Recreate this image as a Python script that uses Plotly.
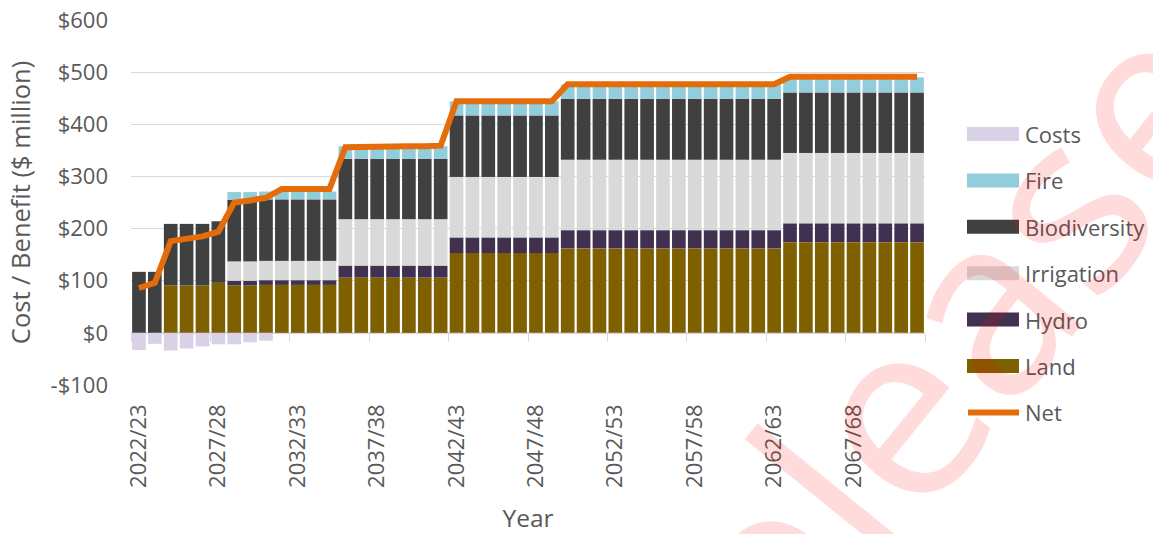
import plotly.graph_objects as go

# ---------------- data ----------------
years = ["2022/23", "2023/24", "2024/25", "2025/26", "2026/27", "2027/28", "2028/29", "2029/30",
         "2030/31", "2031/32", "2032/33", "2033/34", "2034/35", "2035/36", "2036/37", "2037/38",
         "2038/39", "2039/40", "2040/41", "2041/42", "2042/43", "2043/44", "2044/45", "2045/46",
         "2046/47", "2047/48", "2048/49", "2049/50", "2050/51", "2051/52", "2052/53", "2053/54",
         "2054/55", "2055/56", "2056/57", "2057/58", "2058/59", "2059/60", "2060/61", "2061/62",
         "2062/63", "2063/64", "2064/65", "2065/66", "2066/67", "2067/68", "2068/69", "2069/70",
         "2070/71", "2071/72"]

land = [0, 0, 91, 91, 91, 96, 91, 91, 92, 92, 92, 92, 92,
        106, 106, 106, 106, 106, 106, 106,
        153, 153, 153, 153, 153, 153, 153,
        162, 162, 162, 162, 162, 162, 162, 162, 162, 162, 162, 162, 162, 162,
        174, 174, 174, 174, 174, 174, 174, 174, 174]
hydro = [0, 0, 0, 0, 0, 0, 9, 9, 9, 9, 9, 9, 9,
         23, 23, 23, 23, 23, 23, 23,
         30, 30, 30, 30, 30, 30, 30,
         35, 35, 35, 35, 35, 35, 35, 35, 35, 35, 35, 35, 35, 35,
         36, 36, 36, 36, 36, 36, 36, 36, 36]
irrigation = [0, 0, 0, 0, 0, 0, 37, 37, 37, 37, 37, 37, 37,
              89, 89, 89, 89, 89, 89, 89,
              116, 116, 116, 116, 116, 116, 116,
              135, 135, 135, 135, 135, 135, 135, 135, 135, 135, 135, 135, 135, 135,
              135, 135, 135, 135, 135, 135, 135, 135, 135]
biodiversity = [117, 117, 118, 118, 118, 118, 118, 118, 118, 118, 118, 118, 118,
                116, 116, 116, 116, 116, 116, 116,
                118, 118, 118, 118, 118, 118, 118,
                117, 117, 117, 117, 117, 117, 117, 117, 117, 117, 117, 117, 117, 117,
                116, 116, 116, 116, 116, 116, 116, 116, 116]
fire = [0, 0, 0, 0, 0, 0, 15, 15, 15, 15, 15, 15, 15,
        24, 24, 24, 24, 24, 24, 24,
        27, 27, 27, 27, 27, 27, 27,
        27, 27, 27, 27, 27, 27, 27, 27, 27, 27, 27, 27, 27, 27,
        29, 29, 29, 29, 29, 29, 29, 29, 29]
costs = [-33, -21, -34, -30, -26, -22, -22, -18, -15, 0, 0, 0, 0,
         0, 0, 0, 0, 0, 0, 0,
         0, 0, 0, 0, 0, 0, 0,
         0, 0, 0, 0, 0, 0, 0, 0, 0, 0, 0, 0, 0, 0,
         0, 0, 0, 0, 0, 0, 0, 0, 0]
net = [86, 96, 176, 180, 185, 194, 250, 254, 259, 276, 276, 276, 276,
       356, 357, 357, 358, 358, 358, 359,
       444, 444, 444, 444, 444, 444, 444,
       477, 477, 477, 477, 477, 477, 477, 477, 477, 477, 477, 477, 477, 477,
       491, 491, 491, 491, 491, 491, 491, 491, 491]

y_ticks = [-100, 0, 100, 200, 300, 400, 500, 600]
y_ticktext = ["-$100", "$0", "$100", "$200", "$300", "$400", "$500", "$600"]
label_every = 5

# ---------------- style ----------------
C_LAND = "#7F6000"
C_HYDRO = "#403151"
C_IRR = "#D9D9D9"
C_BIO = "#404040"
C_FIRE = "#92CDDC"
C_COSTS = "#D9D1E5"
C_NET = "#E46C0A"
TXT = "#595959"
GRID = "#D9D9D9"
FONT = "Open Sans"

W, H = 1153, 534
ML, MR, MT, MB = 131, 228, 20, 149
PW, PH = W - ML - MR, H - MT - MB


def px(x):
    return (x - ML) / PW


def py(y):
    return (H - MB - y) / PH


xi = list(range(len(years)))

fig = go.Figure()
for name, vals, col in [("Land", land, C_LAND), ("Hydro", hydro, C_HYDRO),
                        ("Irrigation", irrigation, C_IRR), ("Biodiversity", biodiversity, C_BIO),
                        ("Fire", fire, C_FIRE), ("Costs", costs, C_COSTS)]:
    fig.add_trace(go.Bar(x=xi, y=vals, name=name, marker=dict(color=col, line=dict(width=0)),
                         showlegend=False))
fig.add_trace(go.Scatter(x=xi, y=net, name="Net", mode="lines",
                         line=dict(color=C_NET, width=6), showlegend=False))
# helper trace for the category axis line drawn at y = 0
fig.add_trace(go.Scatter(x=[], y=[], xaxis="x2", yaxis="y", showlegend=False, hoverinfo="skip"))

n = len(years)
fig.update_layout(
    width=W, height=H,
    margin=dict(l=ML, r=MR, t=MT, b=MB, autoexpand=False),
    paper_bgcolor="white", plot_bgcolor="white",
    barmode="relative", bargap=0.14,
    showlegend=False,
    font=dict(family=FONT, size=22, color=TXT),
    xaxis=dict(range=[-0.5, n - 0.5], tickmode="array",
               tickvals=xi[::label_every], ticktext=years[::label_every],
               tickangle=-90, showgrid=False, showline=False, zeroline=False, ticks="",
               ticklabelstandoff=14, automargin=False,
               title=dict(text="Year", font=dict(size=24.5, color=TXT), standoff=22)),
    xaxis2=dict(overlaying="x", anchor="free", position=100 / 700, range=[-0.5, n - 0.5],
                tickmode="array", tickvals=[i - 0.5 for i in range(0, n + 1, label_every)],
                ticks="outside", ticklen=8, tickcolor=GRID, tickwidth=1,
                showticklabels=False, showline=True, linecolor=GRID, linewidth=1,
                showgrid=False, zeroline=False, layer="below traces", automargin=False),
    yaxis=dict(range=[-100, 600], tickmode="array", tickvals=y_ticks, ticktext=y_ticktext,
               showgrid=True, gridcolor=GRID, gridwidth=1, zeroline=False, showline=False,
               ticks="", ticklabelstandoff=22, automargin=False,
               title=dict(text="Cost / Benefit ($ million)", font=dict(size=25.5, color=TXT),
                          standoff=12)),
)

# custom legend (wide swatches like the original)
legend_items = [("Costs", C_COSTS, "bar"), ("Fire", C_FIRE, "bar"), ("Biodiversity", C_BIO, "bar"),
                ("Irrigation", C_IRR, "bar"), ("Hydro", C_HYDRO, "bar"), ("Land", C_LAND, "bar"),
                ("Net", C_NET, "line")]
for i, (name, col, kind) in enumerate(legend_items):
    yc = 134 + i * 46.4
    if kind == "bar":
        fig.add_shape(type="rect", xref="paper", yref="paper", x0=px(967), x1=px(1019),
                      y0=py(yc + 7), y1=py(yc - 7), fillcolor=col, line=dict(width=0))
    else:
        fig.add_shape(type="line", xref="paper", yref="paper", x0=px(968), x1=px(1019),
                      y0=py(yc), y1=py(yc), line=dict(color=col, width=6))
    fig.add_annotation(text=name, xref="paper", yref="paper", x=px(1023), y=py(yc),
                       xanchor="left", yanchor="middle", showarrow=False,
                       font=dict(size=22, color=TXT))

# watermark
fig.add_annotation(text="Release", xref="paper", yref="paper", x=px(900), y=py(395),
                   xanchor="center", yanchor="middle", showarrow=False, textangle=-51,
                   font=dict(size=250, color="rgba(255,0,0,0.14)", family=FONT))

fig.write_html("out.html", config={"displayModeBar": False},
               post_script="document.body.style.margin='0';document.body.style.padding='0';")
